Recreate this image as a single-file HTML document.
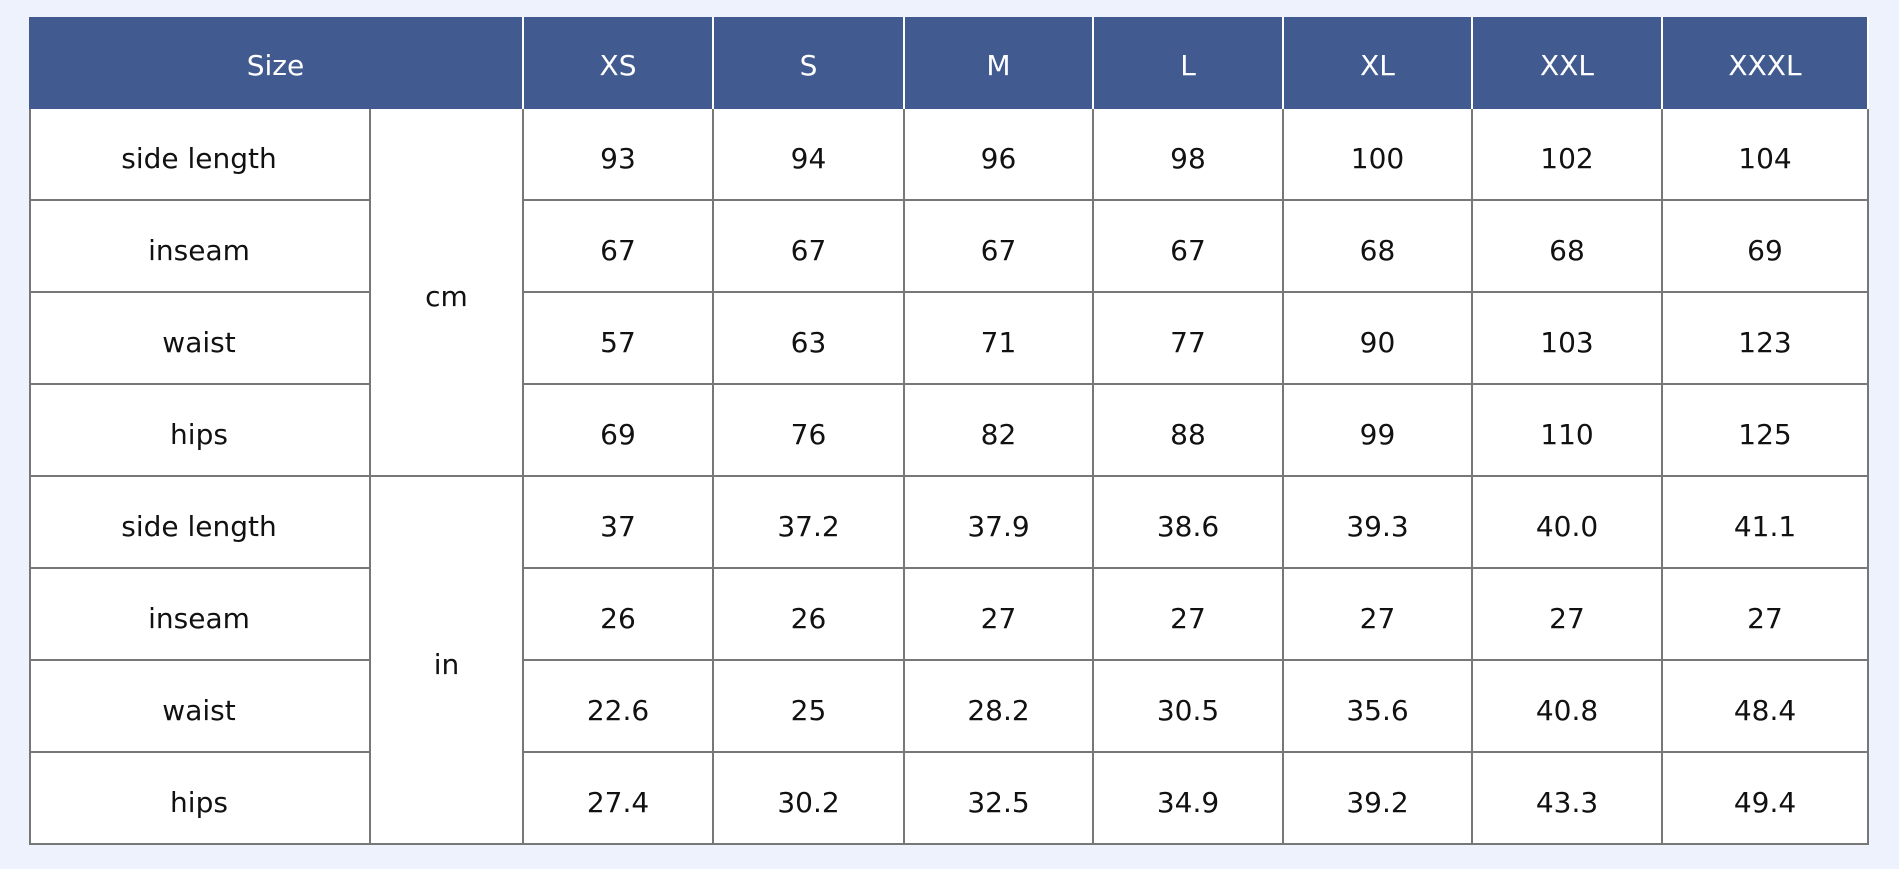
<!DOCTYPE html>
<html><head><meta charset="utf-8"><style>
body{margin:0;width:1899px;height:869px;background:#eef2fd;position:relative;overflow:hidden;font-family:"DejaVu Sans","Liberation Sans",sans-serif;}
.c{position:absolute;display:flex;align-items:center;justify-content:center;box-sizing:border-box;font-size:28px;color:#111;}
.h{background:#415b91;color:#fff;border-right:2px solid #fff;padding-top:4px;}
.b{background:#fff;border-right:2px solid #777;border-bottom:2px solid #777;padding-top:8px;}
</style></head><body>
<div id="t"></div>
<script>
const X=[29,371,524,714,905,1094,1284,1473,1663,1869];
const top0=17,H=92;
let s='';
function cell(x1,x2,y1,y2,txt,cls){s+=`<div class="c ${cls}" style="left:${x1}px;top:${y1}px;width:${x2-x1}px;height:${y2-y1}px">${txt}</div>`;}
const hd=['XS','S','M','L','XL','XXL','XXXL'];
cell(X[0],X[2],top0,top0+H,'Size','h');
hd.forEach((h,i)=>cell(X[i+2],X[i+3],top0,top0+H,h,'h'));
const names=['side length','inseam','waist','hips'];
const data=[[93,94,96,98,100,102,104],[67,67,67,67,68,68,69],[57,63,71,77,90,103,123],[69,76,82,88,99,110,125],
['37','37.2','37.9','38.6','39.3','40.0','41.1'],[26,26,27,27,27,27,27],['22.6','25','28.2','30.5','35.6','40.8','48.4'],['27.4','30.2','32.5','34.9','39.2','43.3','49.4']];
for(let r=0;r<8;r++){
 const y1=top0+H*(r+1),y2=y1+H;
 cell(X[0],X[1],y1,y2,names[r%4],'b');
 data[r].forEach((v,i)=>cell(X[i+2],X[i+3],y1,y2,v,'b'));
}
cell(X[1],X[2],top0+H,top0+H*5,'cm','b');
cell(X[1],X[2],top0+H*5,top0+H*9,'in','b');
s+=`<div style="position:absolute;left:${X[0]}px;top:${top0+H}px;width:2px;height:${H*8}px;background:#777"></div>`;
document.getElementById('t').innerHTML=s;
</script>
</body></html>
